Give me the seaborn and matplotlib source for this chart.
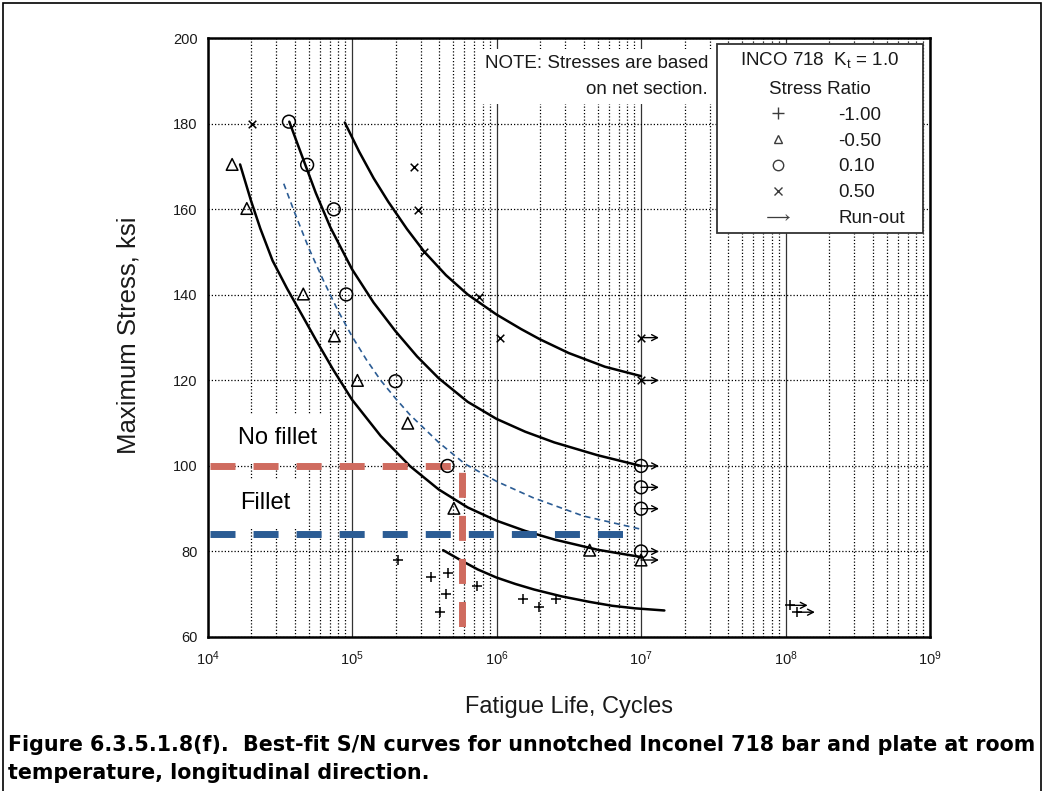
import matplotlib
matplotlib.use("Agg")
import matplotlib.pyplot as plt
from matplotlib.lines import Line2D
from matplotlib.patches import Rectangle
from matplotlib.ticker import LogLocator, NullFormatter, FixedLocator
import seaborn as sns

# ---------------------------------------------------------------------------
# Test points: maximum stress (ksi) vs. fatigue life (cycles), per stress ratio
# ---------------------------------------------------------------------------
r_m100_cycles = [2.09e5, 3.51e5, 4.60e5, 4.46e5, 4.06e5, 7.33e5, 1.53e6, 1.97e6, 2.59e6]
r_m100_stress = [78.0, 74.1, 74.9, 70.0, 65.8, 72.0, 68.8, 66.9, 69.0]

r_m050_cycles = [1.48e4, 1.87e4, 4.60e4, 7.55e4, 1.09e5, 2.43e5, 5.07e5, 4.41e6]
r_m050_stress = [170.5, 160.2, 140.2, 130.4, 120.0, 110.0, 90.1, 80.3]

r_010_cycles = [3.66e4, 4.89e4, 7.48e4, 9.12e4, 2.00e5, 4.58e5]
r_010_stress = [180.5, 170.4, 160.0, 140.1, 119.8, 100.0]

r_050_cycles = [2.03e4, 2.67e5, 2.85e5, 3.15e5, 7.60e5, 1.06e6]
r_050_stress = [180.0, 169.9, 159.8, 150.1, 139.6, 130.0]

# Run-outs (specimens that did not fail)
runout_cycles = [1e7, 1e7, 1e7, 1e7, 1e7, 1e7, 1e7, 1.07e8, 1.20e8]
runout_stress = [130.0, 120.0, 100.0, 95.0, 90.0, 80.0, 78.0, 67.4, 65.8]
runout_ratio = ["0.50", "0.50", "0.10", "0.10", "0.10", "0.10", "-0.50", "-1.00", "-1.00"]

# ---------------------------------------------------------------------------
# Best-fit S/N curves
# ---------------------------------------------------------------------------
fit_m100_cycles = [4.27e5, 5.62e5, 7.41e5, 1.00e6, 1.35e6, 1.82e6, 2.82e6, 4.42e6, 6.31e6, 9.12e6, 1.45e7]
fit_m100_stress = [80.3, 78.0, 75.8, 73.9, 72.4, 71.1, 69.5, 68.2, 67.3, 66.7, 66.2]

fit_m050_cycles = [1.68e4, 2.00e4, 2.32e4, 2.82e4, 3.55e4, 4.47e4, 5.62e4, 7.41e4, 1.00e5,
                   1.58e5, 2.51e5, 3.98e5, 6.31e5, 1.00e6, 1.58e6, 2.51e6, 5.01e6, 1.00e7]
fit_m050_stress = [170.5, 162.0, 155.5, 148.0, 141.5, 135.5, 129.5, 122.5, 115.5,
                   107.0, 100.0, 94.5, 90.3, 87.2, 84.8, 82.8, 80.4, 78.7]

fit_010_cycles = [3.68e4, 4.47e4, 5.62e4, 7.08e4, 1.00e5, 1.41e5, 2.00e5, 2.82e5, 3.98e5,
                  6.31e5, 1.00e6, 1.58e6, 2.51e6, 5.01e6, 1.00e7]
fit_010_stress = [180.5, 172.8, 163.8, 155.8, 146.0, 138.2, 131.5, 125.6, 120.5,
                  115.0, 111.0, 108.0, 105.5, 102.5, 100.0]

fit_050_cycles = [8.91e4, 1.12e5, 1.41e5, 1.78e5, 2.40e5, 3.16e5, 4.47e5, 6.31e5, 1.00e6,
                  1.48e6, 2.00e6, 3.16e6, 5.62e6, 1.00e7]
fit_050_stress = [180.3, 173.5, 167.3, 161.8, 155.4, 150.1, 144.6, 140.1, 135.4,
                  132.0, 129.6, 126.4, 123.2, 121.0]

# Design curve (thin dashed blue)
design_cycles = [3.37e4, 3.98e4, 5.01e4, 6.31e4, 7.94e4, 1.00e5, 1.26e5, 1.58e5, 2.00e5,
                 2.51e5, 3.98e5, 6.03e5, 1.00e6, 1.78e6, 3.98e6, 1.00e7, 1.03e7]
design_stress = [166.0, 159.5, 151.0, 143.5, 136.5, 130.3, 124.8, 120.0, 115.8,
                 112.0, 105.5, 100.5, 96.4, 92.6, 88.3, 85.2, 85.1]

# Stress levels for the two part geometries
no_fillet_cycles = [1.04e4, 5.8e5, 5.8e5]
no_fillet_stress = [100.0, 100.0, 61.0]
fillet_cycles = [1.04e4, 8.8e6]
fillet_stress = [84.0, 84.0]

# Axis ticks and legend entries
y_ticks = [60, 80, 100, 120, 140, 160, 180, 200]
x_ticks = [1e4, 1e5, 1e6, 1e7, 1e8, 1e9]
ratio_labels = ["-1.00", "-0.50", "0.10", "0.50"]
ratio_markers = {"-1.00": "+", "-0.50": "^", "0.10": "o", "0.50": "x"}

# ---------------------------------------------------------------------------
sns.set_theme(style="white")
plt.rcParams["font.family"] = ["Liberation Sans", "DejaVu Sans"]
plt.rcParams["mathtext.fontset"] = "custom"
plt.rcParams["mathtext.rm"] = "Liberation Sans"
plt.rcParams["mathtext.it"] = "Liberation Sans:italic"
plt.rcParams["mathtext.default"] = "regular"

INK = "#1a1a1a"
RED = "#CF6B5F"
BLUE = "#2B5C94"
DOT = (0, (1.0, 1.6))

fig = plt.figure(figsize=(10.47, 7.91), dpi=100)
ax = fig.add_axes([0.1982, 0.1947, 0.6901, 0.7569])
ax.set_xscale("log")
ax.set_xlim(1e4, 1e9)
ax.set_ylim(60, 200)

# grid: solid at decades, dotted at intermediate cycles and stress steps
ax.xaxis.set_major_locator(FixedLocator(x_ticks))
ax.xaxis.set_minor_locator(LogLocator(base=10, subs=range(2, 10), numticks=20))
ax.xaxis.set_minor_formatter(NullFormatter())
ax.set_yticks(y_ticks)
ax.set_axisbelow(True)
ax.grid(which="major", axis="x", color="#333333", lw=0.9, ls="-")
ax.grid(which="minor", axis="x", color="black", lw=0.9, ls=DOT)
ax.grid(which="major", axis="y", color="black", lw=0.9, ls=DOT)
ax.tick_params(axis="both", which="both", length=0)
ax.tick_params(axis="x", labelsize=10.5, pad=9, colors=INK)
ax.tick_params(axis="y", labelsize=10.5, pad=7, colors=INK)
for sp in ax.spines.values():
    sp.set_color("black")
    sp.set_linewidth(1.8)

# best-fit curves
for cyc, st in [(fit_m100_cycles, fit_m100_stress), (fit_m050_cycles, fit_m050_stress),
                (fit_010_cycles, fit_010_stress), (fit_050_cycles, fit_050_stress)]:
    sns.lineplot(x=cyc, y=st, ax=ax, sort=False, estimator=None,
                 color="black", lw=1.8, zorder=3)
sns.lineplot(x=design_cycles, y=design_stress, ax=ax, sort=False, estimator=None,
             color=BLUE, lw=1.2, ls=(0, (3.5, 2.5)), zorder=3)

# geometry stress levels
sns.lineplot(x=no_fillet_cycles, y=no_fillet_stress, ax=ax, sort=False, estimator=None,
             color=RED, lw=5, ls=(0, (3.6, 2.6)), zorder=3.5)
sns.lineplot(x=fillet_cycles, y=fillet_stress, ax=ax, sort=False, estimator=None,
             color=BLUE, lw=5, ls=(0, (3.6, 2.6)), zorder=3.5)

# test points
marker_size = {"+": 55, "^": 70, "o": 85, "x": 30}


def draw_points(cycles, stress, marker):
    kws = dict(marker=marker, s=marker_size[marker], linewidth=1.1, zorder=5)
    if marker in ("o", "^"):
        kws.update(facecolor="none", edgecolor="black")
    else:
        kws.update(color="black")
    sns.scatterplot(x=cycles, y=stress, ax=ax, legend=False, **kws)


draw_points(r_m100_cycles, r_m100_stress, ratio_markers["-1.00"])
draw_points(r_m050_cycles, r_m050_stress, ratio_markers["-0.50"])
draw_points(r_010_cycles, r_010_stress, ratio_markers["0.10"])
draw_points(r_050_cycles, r_050_stress, ratio_markers["0.50"])

# run-outs with arrows
for ratio in ratio_labels:
    cyc = [c for c, r in zip(runout_cycles, runout_ratio) if r == ratio]
    st = [s for s, r in zip(runout_stress, runout_ratio) if r == ratio]
    draw_points(cyc, st, ratio_markers[ratio])
for c, s in zip(runout_cycles, runout_stress):
    ax.annotate("", xy=(c * 1.33, s), xytext=(c, s), zorder=5,
                arrowprops=dict(arrowstyle="->,head_length=0.35,head_width=0.18",
                                lw=1.0, color="black", shrinkA=0, shrinkB=0))

# annotations
ax.text(0.6927, 0.936, "NOTE: Stresses are based\non net section.", transform=ax.transAxes,
        ha="right", va="center", multialignment="right", fontsize=13.5, color=INK,
        linespacing=1.7, zorder=4,
        bbox=dict(boxstyle="square,pad=0.3", fc="white", ec="none"))
ax.text(0.0415, 0.333, "No fillet", transform=ax.transAxes, ha="left", va="center",
        fontsize=17, color="black", zorder=4,
        bbox=dict(boxstyle="square,pad=0.55", fc="white", ec="none"))
ax.text(0.0456, 0.224, "Fillet", transform=ax.transAxes, ha="left", va="center",
        fontsize=17, color="black", zorder=4,
        bbox=dict(boxstyle="square,pad=0.55", fc="white", ec="none"))

# legend
LEG = "#3c3c3c"
handles = [
    Line2D([], [], ls="none", marker="+", ms=8, mew=1.0, color=LEG),
    Line2D([], [], ls="none", marker="^", ms=6, mfc="none", mec=LEG, mew=1.0),
    Line2D([], [], ls="none", marker="o", ms=7.5, mfc="none", mec=LEG, mew=1.0),
    Line2D([], [], ls="none", marker="x", ms=5.5, mew=1.0, color=LEG),
    Line2D([], [], ls="none", marker=r"$\longrightarrow$", ms=16, mew=0.2, color=LEG),
]
leg = ax.legend(handles, ratio_labels + ["Run-out"],
                title="INCO 718  K$_\\mathregular{t}$ = 1.0\nStress Ratio",
                loc="upper left", mode="expand", alignment="center",
                bbox_to_anchor=(0.7052, 0.0, 0.2851, 0.9905), borderaxespad=0,
                fontsize=13.5, title_fontsize=13.5, frameon=True, fancybox=False,
                framealpha=1, edgecolor="#333333", borderpad=0.3, handlelength=5.9,
                handletextpad=0.28, labelspacing=0.47)
leg.get_frame().set_linewidth(1.3)
leg.get_title().set_linespacing(1.85)
leg.get_title().set_multialignment("center")
leg.get_title().set_color(INK)
for t in leg.get_texts():
    t.set_color(INK)
leg.set_zorder(6)

# axis labels
ax.set_xlabel("Fatigue Life, Cycles", fontsize=17, color=INK)
ax.xaxis.set_label_coords(0.5, -0.117)
ax.xaxis.label.set_va("center")
ax.set_ylabel("Maximum Stress, ksi", fontsize=18.5, color=INK)
ax.yaxis.set_label_coords(-0.110, 0.504)
ax.yaxis.label.set_va("center")

# caption
CAP_FONT = ["DejaVu Sans"]
fig.text(0.008, 1 - 745 / 791,
         "Figure 6.3.5.1.8(f).  Best-fit S/N curves for unnotched Inconel 718 bar and plate at room",
         ha="left", va="center", fontsize=14.9, fontweight="bold", color="black",
         family=CAP_FONT)
fig.text(0.008, 1 - 773 / 791, "temperature, longitudinal direction.",
         ha="left", va="center", fontsize=14.9, fontweight="bold", color="black",
         family=CAP_FONT)

# page frame
fig.add_artist(Rectangle((3 / 1047, -0.05), 1038 / 1047, 1.05 - 3 / 791,
                         transform=fig.transFigure, fill=False, ec="black", lw=1.2))

fig.savefig("out.png", dpi=100, facecolor="white")
